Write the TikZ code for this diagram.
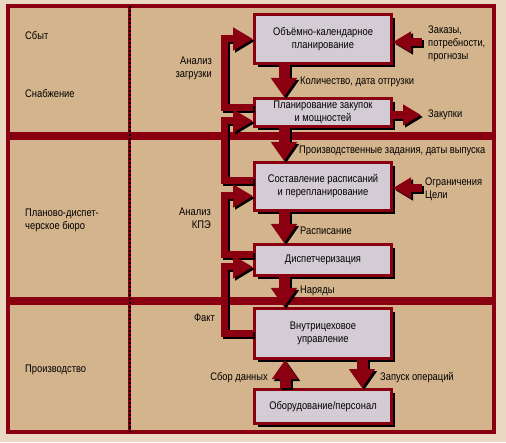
\documentclass[tikz,border=0pt]{standalone}
\usepackage{fontspec}
\setmainfont{Liberation Sans}[FakeStretch=0.85]
\usetikzlibrary{arrows.meta,shadows}
\definecolor{bordo}{RGB}{139,0,16}
\definecolor{pesok}{RGB}{212,180,140}
\definecolor{fon}{RGB}{234,216,194}
\definecolor{seryj}{RGB}{212,204,212}
\tikzset{
	polosa/.style={draw=bordo,fill=pesok,line width=4pt,drop shadow={shadow xshift=2.5pt,shadow yshift=-2.5pt,fill=black,opacity=1}},
	blok/.style={rectangle,draw=bordo,fill=seryj,line width=3pt,minimum width=137pt,inner sep=2pt,align=center,drop shadow={shadow xshift=3.5pt,shadow yshift=-3.5pt,fill=black,opacity=1}},
	podpis/.style={inner sep=0pt,align=left},
	vniz/.style={draw=bordo,line width=11pt,-{Triangle[width=25pt,length=19pt]}},
	petlya/.style={draw=bordo,line width=7pt,-{Triangle[width=22pt,length=20pt]}},
	vhod/.style={draw=bordo,line width=8pt,-{Triangle[width=20pt,length=18pt]}}
}
% толстая стрелка с тенью
\newcommand{\tolsto}[2]{%
	\draw[#1,draw=black,transform canvas={shift={(2pt,-2pt)}}] #2;
	\draw[#1] #2;}
\begin{document}
\begin{tikzpicture}[x=1pt,y=1pt,every node/.style={font=\fontsize{11}{13}\selectfont}]
	\useasboundingbox (0,0) rectangle (506,442);
	\fill[fon] (0,0) rectangle (506,442);
	% полосы
	\draw[polosa] (8,435.5) rectangle (493.5,307.5);
	\draw[polosa] (8,303.5) rectangle (493.5,143);
	\draw[polosa] (8,138.5) rectangle (493.5,10.5);
	\draw[bordo,line width=3pt] (129.5,435.5)--(129.5,10.5);
	\draw[black,line width=1.2pt,dash pattern=on 2pt off 2pt] (130,435.5)--(130,10.5);
	% подразделения
	\node[podpis,anchor=west] (sbyt) at (25,406) {Сбыт};
	\node[podpis,anchor=west] (snab) at (25,348) {Снабжение};
	\node[podpis,anchor=west] (pdb) at (25,222) {Планово-диспет-\\черское бюро};
	\node[podpis,anchor=west] (proizv) at (25,72) {Производство};
	% блоки
	\node[blok,minimum height=49pt] (b1) at (323,403) {Объёмно-календарное\\планирование};
	\node[blok,minimum height=28pt] (b2) at (323,329.5) {Планирование закупок\\и мощностей};
	\node[blok,minimum height=48pt] (b3) at (323,255.5) {Составление расписаний\\и перепланирование};
	\node[blok,minimum height=31pt] (b4) at (323,182) {Диспетчеризация};
	\node[blok,minimum height=50pt] (b5) at (323,108.5) {Внутрицеховое\\управление};
	\node[blok,minimum height=34pt] (b6) at (323,35.5) {Оборудование/персонал};
	% вниз по цепочке
	\tolsto{vniz}{([xshift=-39pt]b1.south) -- ([xshift=-39pt]b2.north)}
	\tolsto{vniz}{([xshift=-39pt]b2.south) -- ([xshift=-39pt]b3.north)}
	\tolsto{vniz}{([xshift=-39pt]b3.south) -- ([xshift=-39pt]b4.north)}
	\tolsto{vniz}{([xshift=-39pt]b4.south) -- ([xshift=-39pt]b5.north)}
	\tolsto{vniz}{([xshift=-38pt]b6.north) -- ([xshift=-38pt]b5.south)}
	\tolsto{vniz}{([xshift=39pt]b5.south) -- ([xshift=39pt]b6.north)}
	% обратная связь
	\tolsto{petlya}{([yshift=4.5pt]b2.west) -- ++(-29,0) |- (b1.west)}
	\tolsto{petlya}{([yshift=5.5pt]b3.west) -- ++(-29,0) |- ([yshift=-8.5pt]b2.west)}
	\tolsto{petlya}{([yshift=5pt]b4.west) -- ++(-29,0) |- ([yshift=-9.5pt]b3.west)}
	\tolsto{petlya}{(b5.west) -- ++(-29,0) |- ([yshift=-7pt]b4.west)}
	% входы и выходы справа
	\coordinate (vh1) at (422,400);
	\coordinate (vyh2) at (421,327);
	\coordinate (vh3) at (422,254);
	\tolsto{vhod}{(vh1) -- ([yshift=-3pt]b1.east)}
	\tolsto{vhod}{([yshift=-2.5pt]b2.east) -- (vyh2)}
	\tolsto{vhod}{(vh3) -- ([yshift=-1.5pt]b3.east)}
	% подписи
	\node[podpis,anchor=west] (zakazy) at (428,398) {Заказы,\\потребности,\\прогнозы};
	\node[podpis,anchor=west] (zakupki) at (428,327) {Закупки};
	\node[podpis,anchor=west] (ogr) at (425,253) {Ограничения\\Цели};
	\node[podpis,anchor=west] (kol) at (300,360) {Количество, дата отгрузки};
	\node[podpis,anchor=west] (pz) at (299,291) {Производственные задания, даты выпуска};
	\node[podpis,anchor=west] (rasp) at (300,211) {Расписание};
	\node[podpis,anchor=west] (nar) at (300,151) {Наряды};
	\node[podpis,anchor=east] (sbor) at (268,64) {Сбор данных};
	\node[podpis,anchor=west] (zapusk) at (380,64) {Запуск операций};
	\node[podpis,anchor=east,align=right] (anzag) at (212,374) {Анализ\\загрузки};
	\node[podpis,anchor=east,align=right] (ankpe) at (211,224) {Анализ\\КПЭ};
	\node[podpis,anchor=east] (fakt) at (215,124) {Факт};
\end{tikzpicture}
\end{document}
